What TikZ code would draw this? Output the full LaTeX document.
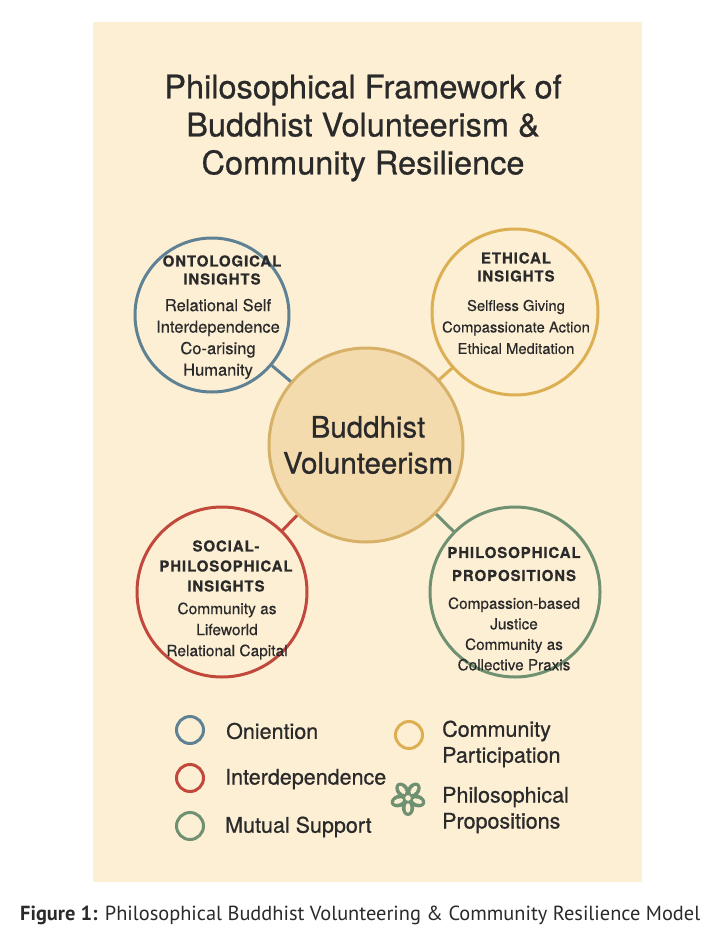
\documentclass[tikz,border=0pt]{standalone}
\usepackage{fontspec}
\setmainfont{TeX Gyre Heros}
\newfontfamily\medfont[FakeBold=0.7]{TeX Gyre Heros}
\newfontfamily\itmfont[FakeBold=0.35]{TeX Gyre Heros}
\newfontfamily\trackfont[LetterSpace=6,FakeBold=0.5]{TeX Gyre Heros Bold}
\newfontfamily\capfont{PT Sans}
\usetikzlibrary{calc}
\definecolor{panel}{HTML}{FDEFD4}
\definecolor{ink}{HTML}{2A2A2A}
\definecolor{cblue}{HTML}{5F8194}
\definecolor{cgold}{HTML}{DCB052}
\definecolor{cred}{HTML}{C1493C}
\definecolor{cgreen}{HTML}{6F9171}
\definecolor{cfill}{HTML}{F4DBAE}
\definecolor{cring}{HTML}{D8B168}
\tikzset{
  ring/.style={circle, draw=#1, line width=3pt, fill=panel, inner sep=0pt},
  link/.style={draw=#1, line width=3pt},
  ttl/.style={text=ink, font=\trackfont\fontsize{15}{18}\selectfont, align=center, inner sep=0pt},
  itm/.style={text=ink, font=\itmfont\fontsize{14.8}{21.5}\selectfont, align=center, inner sep=0pt},
  leg/.style={circle, draw=#1, line width=3pt, minimum size=27pt, inner sep=0pt},
  legtxt/.style={text=ink, font=\medfont\fontsize{21.5}{26}\selectfont, anchor=west, align=left, inner sep=0pt},
}
\begin{document}
\begin{tikzpicture}[x=1pt,y=-1pt]
\useasboundingbox (0,0) rectangle (718,947);
\fill[white] (0,0) rectangle (718,947);
\fill[panel] (93,22) rectangle (642,882);
% title
\node[text=ink, font=\medfont\fontsize{32.5}{38}\selectfont, align=center, inner sep=0pt] (title) at (363,128)
  {Philosophical Framework of\\Buddhist Volunteerism \&\\Community Resilience};
% circles
\node[ring=cblue, minimum size=154pt] (onto) at (212,315) {};
\node[ring=cgold, minimum size=166pt] (eth) at (515,312) {};
\node[ring=cred, minimum size=170pt] (soc) at (222,592) {};
\node[ring=cgreen, minimum size=170pt] (prop) at (515,592) {};
\coordinate (cc) at (366,445);
\draw[link=cblue] (onto) -- (cc);
\draw[link=cgold] (eth) -- (cc);
\draw[link=cred] (soc) -- (cc);
\draw[link=cgreen] (prop) -- (cc);
\node[circle, draw=cring, fill=cfill, line width=3pt, minimum size=194pt, inner sep=0pt] (core) at (cc) {};
\node[text=ink, font=\medfont\fontsize{29.5}{36}\selectfont, align=center, inner sep=0pt] (coretxt) at (368,445) {Buddhist\\Volunteerism};
% ontological
\node[ttl] (ontot) at (222,270) {ONTOLOGICAL\\INSIGHTS};
\node[itm, font=\itmfont\fontsize{16.5}{21.5}\selectfont] (ontoi) at (218,339) {Relational Self\\Interdependence\\Co-arising\\Humanity};
% ethical
\node[ttl] (etht) at (516,267) {ETHICAL\\INSIGHTS};
\node[itm] (ethi) at (516,327) {Selfless Giving\\Compassionate Action\\Ethical Meditation};
% social
\node[ttl, font=\trackfont\fontsize{15}{20}\selectfont] (soct) at (226,566) {SOCIAL-\\PHILOSOPHICAL\\INSIGHTS};
\node[itm, font=\itmfont\fontsize{15.5}{21}\selectfont] (soci) at (227,631) {Community as\\Lifeworld\\Relational Capital};
% propositions
\node[ttl, font=\trackfont\fontsize{15}{23}\selectfont] (propt) at (514,564) {PHILOSOPHICAL\\PROPOSITIONS};
\node[itm, font=\itmfont\fontsize{15.3}{20.5}\selectfont] (propi) at (514,634) {Compassion-based\\Justice\\Community as\\Collective Praxis};
% legend
\node[leg=cblue] (l1) at (190,730) {};
\node[leg=cred] (l2) at (190,778) {};
\node[leg=cgreen] (l3) at (190,826) {};
\node[leg=cgold] (l4) at (409,735) {};
\node[legtxt] (t1) at (226,731) {Oniention};
\node[legtxt] (t2) at (225,779) {Interdependence};
\node[legtxt] (t3) at (225,827) {Mutual Support};
\node[legtxt] (t4) at (442,744) {Community\\Participation};
\node[legtxt] (t5) at (442,810) {Philosophical\\Propositions};
% flower (5 petals)
\coordinate (fl) at (408,798);
\foreach \a in {270,342,54,126,198} {
  \fill[cgreen, rotate around={\a:(fl)}] ($(fl)+(9.5,0)$) ellipse [x radius=8.5pt, y radius=6.2pt];
}
\foreach \a in {270,342,54,126,198} {
  \fill[panel, rotate around={\a:(fl)}] ($(fl)+(10,0)$) ellipse [x radius=4.8pt, y radius=2.5pt];
}
\fill[panel] (fl) circle (2.8pt);
% caption
\node[anchor=west, inner sep=0pt, text=ink] (cap) at (20,915)
  {\resizebox{680pt}{!}{\capfont\fontsize{18}{22}\selectfont\textbf{Figure 1:} Philosophical Buddhist Volunteering \& Community Resilience Model}};
\end{tikzpicture}
\end{document}
